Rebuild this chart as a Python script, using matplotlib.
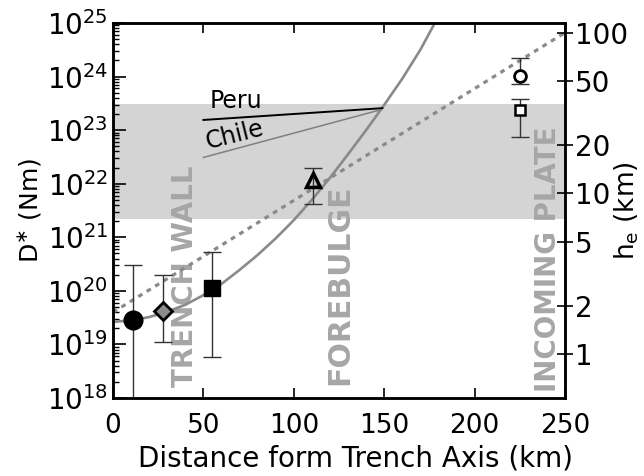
import numpy as np
import matplotlib
matplotlib.use('Agg')
import matplotlib.pyplot as plt
from matplotlib.ticker import FixedLocator, NullLocator, LogLocator, NullFormatter

plt.rcParams['font.family'] = ['DejaVu Sans']
plt.rcParams['mathtext.fontset'] = 'dejavusans'

# ======== Data ========
# log10(D) values, D in Nm
LOG_K = 18.82          # D = K * he^3 (he in km)

curve_x = [0, 10, 20, 30, 40, 50, 60, 70, 80, 90, 100, 110, 120, 130, 140, 150, 160, 170, 178]
curve_logd = [19.42, 19.45, 19.51, 19.61, 19.74, 19.92, 20.13, 20.39, 20.67, 20.98,
              21.32, 21.70, 22.11, 22.55, 23.00, 23.47, 23.96, 24.50, 25.0]

dash_x = [0, 250]
dash_logd = [19.6, 24.82]

peru_x = [50, 149]
peru_logd = [23.19, 23.41]
chile_x = [50, 148]
chile_logd = [22.49, 23.38]

band_logd = [21.34, 23.48]

# points: x, log D, log lower, log upper
pt_names = ['circle', 'diamond', 'square', 'triangle', 'open_circle', 'open_square']
pt_x = [10.9, 27.8, 54.9, 110.8, 225.0, 225.0]
pt_logd = [19.46, 19.63, 20.05, 22.07, 24.01, 23.38]
pt_lo = [17.0, 19.04, 18.77, 21.62, 23.86, 22.88]
pt_hi = [20.49, 20.30, 20.73, 22.29, 24.34, 23.58]

he_ticks = [1, 2, 5, 10, 20, 50, 100]
x_ticks = [0, 50, 100, 150, 200, 250]
y_exps = [18, 19, 20, 21, 22, 23, 24, 25]

zones = ['TRENCH WALL', 'FOREBULGE', 'INCOMING PLATE']
zone_x = [40, 125.3, 240.7]
zone_logy = [18.21, 18.25, 18.12]
zone_size = [20, 21.5, 20]

# ======== Plot ========
fig = plt.figure(figsize=(6.44, 4.76), dpi=100)
ax = fig.add_axes([0.1755, 0.1639, 0.7018, 0.7878])

ax.axhspan(10**band_logd[0], 10**band_logd[1], color='#d4d4d4', lw=0, zorder=0)

ax.plot(curve_x, 10**np.array(curve_logd), color='#8a8a8a', lw=1.9, zorder=2)
ax.plot(dash_x, 10**np.array(dash_logd), color='#8a8a8a', lw=2.3,
        linestyle=(0, (1.5, 1.6)), zorder=2)

ax.plot(peru_x, 10**np.array(peru_logd), color='black', lw=1.4, zorder=3)
ax.plot(chile_x, 10**np.array(chile_logd), color='#808080', lw=1.1, zorder=3)
ax.text(53.6, 10**23.41, 'Peru', fontsize=17, va='baseline', ha='left')
ax.text(52.5, 10**22.64, 'Chile', fontsize=17, va='baseline', ha='left',
        rotation=14, rotation_mode='anchor')

for name, x, zy, fs in zip(zones, zone_x, zone_logy, zone_size):
    ax.text(x, 10**zy, name, rotation=90, ha='center', va='bottom',
            fontsize=fs, fontweight='bold', color='#a6a6a6', zorder=1)

styles = {
    'circle': dict(marker='o', ms=13.5, mfc='black', mec='black', mew=1),
    'diamond': dict(marker='D', ms=9.5, mfc='#8c8c8c', mec='black', mew=2),
    'square': dict(marker='s', ms=12, mfc='black', mec='black', mew=1),
    'triangle': dict(marker='^', ms=10, mfc='none', mec='black', mew=2.5),
    'open_circle': dict(marker='o', ms=8.5, mfc='white', mec='black', mew=2),
    'open_square': dict(marker='s', ms=7.5, mfc='white', mec='black', mew=1.8),
}
for name, x, y, lo, hi in zip(pt_names, pt_x, pt_logd, pt_lo, pt_hi):
    yv = 10**y
    err = [[yv - 10**lo], [10**hi - yv]]
    ax.errorbar([x], [yv], yerr=err, fmt='none', ecolor='#333333',
                elinewidth=1, capsize=6.5, capthick=1, zorder=4)
    ax.plot([x], [yv], ls='none', zorder=5, **styles[name])

ax.set_yscale('log')
ax.set_xlim(0, 250)
ax.set_ylim(1e18, 1e25)

ax.set_xticks(x_ticks)
ax.set_xticklabels([str(v) for v in x_ticks])
ax.yaxis.set_major_locator(FixedLocator([10.0**e for e in y_exps]))
ax.set_yticklabels([r'$\mathregular{10^{%d}}$' % e for e in y_exps])
ax.yaxis.set_minor_locator(LogLocator(base=10, subs=np.arange(2, 10), numticks=20))
ax.yaxis.set_minor_formatter(NullFormatter())

ax.tick_params(axis='x', which='major', direction='in', length=7, width=1.2,
               top=True, labelsize=19, pad=11)
ax.tick_params(axis='y', which='major', direction='in', length=9, width=1.2,
               right=False, labelsize=20, pad=3.5)
ax.tick_params(axis='y', which='minor', direction='in', length=4.5, width=1,
               right=False)
for sp in ax.spines.values():
    sp.set_linewidth(1.8)

ax.set_xlabel('Distance form Trench Axis (km)', fontsize=20)
ax.xaxis.set_label_coords(0.537, -0.125)
ax.set_ylabel(r'D$^{\ast}$ (Nm)', fontsize=18)
ax.yaxis.set_label_coords(-0.155, 0.5)

# right axis: effective elastic thickness
ax2 = ax.twinx()
ax2.set_yscale('log')
ax2.set_ylim(1e18, 1e25)
ax2.yaxis.set_major_locator(FixedLocator([10**(LOG_K + 3 * np.log10(h)) for h in he_ticks]))
ax2.set_yticklabels([str(h) for h in he_ticks])
ax2.yaxis.set_minor_locator(NullLocator())
ax2.tick_params(axis='y', direction='inout', length=12, width=1.2, labelsize=20, pad=1)
ax2.set_ylabel(r'h$_\mathregular{e}$ (km)', fontsize=19)
ax2.yaxis.set_label_coords(1.106, 0.5)
for sp in ax2.spines.values():
    sp.set_linewidth(1.8)

fig.savefig('out.png', dpi=100)
